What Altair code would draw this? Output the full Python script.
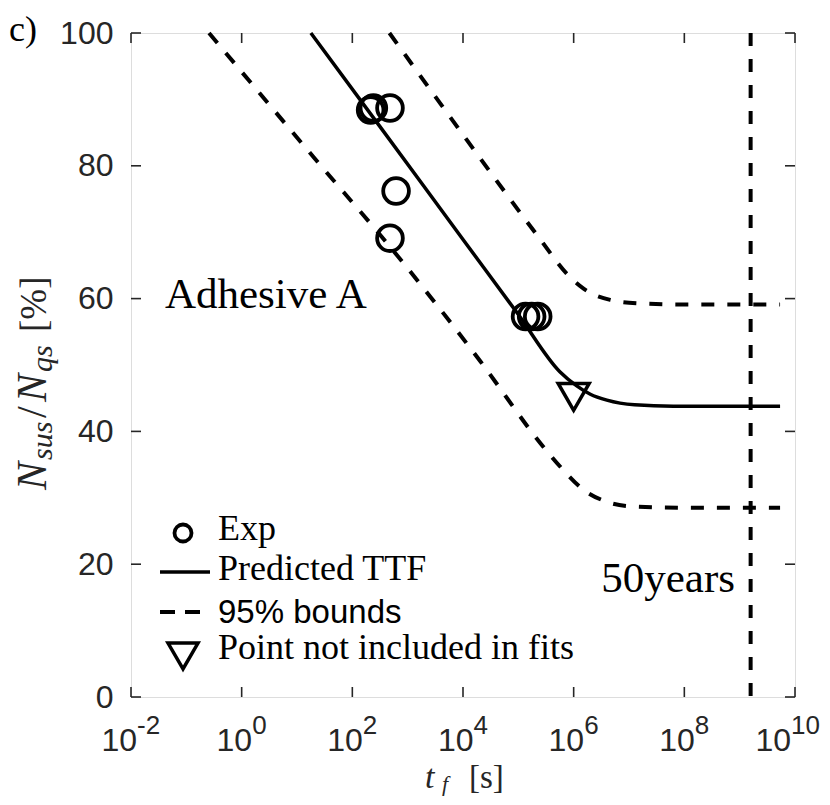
import altair as alt
import pandas as pd

# ---------------- data ----------------
# experimental points (time to failure [s], Nsus/Nqs [%])
exp_t = [214, 240, 479, 617, 479, 1.35e5, 1.74e5, 2.24e5]
exp_y = [88.4, 88.7, 88.7, 76.2, 69.1, 57.3, 57.3, 57.3]

# point not included in fits
excl_t = [1.0e6]
excl_y = [45.2]

# predicted TTF curve
pred_t = [17.8, 316, 1.0e4, 1.0e5, 5.62e5, 1.12e6, 2.0e6, 3.98e6, 1.26e7, 6.31e7, 5.37e9]
pred_y = [100, 85.9, 68.9, 57.6, 49.0, 46.9, 45.6, 44.7, 44.0, 43.8, 43.8]

# 95% bounds
upper_t = [468, 1.17e4, 2.45e5, 7.41e5, 1.51e6, 4.57e6, 1.38e7, 1.0e8, 5.37e9]
upper_y = [100, 83.9, 69.0, 63.8, 61.5, 59.8, 59.3, 59.1, 59.1]
lower_t = [0.257, 19.5, 631, 2.04e4, 2.82e5, 6.46e5, 1.51e6, 3.98e6, 1.17e7, 1.0e8, 5.37e9]
lower_y = [100, 81.4, 66.6, 50.6, 37.7, 34.2, 31.2, 29.4, 28.7, 28.5, 28.5]

# 50 years line
fifty_t = [1.578e9]

# axis ticks
x_ticks = [1e-2, 1e0, 1e2, 1e4, 1e6, 1e8, 1e10]
x_exps = ["-2", "0", "2", "4", "6", "8", "10"]
y_ticks = [0, 20, 40, 60, 80, 100]

legend_labels = ["Exp", "Predicted TTF", "95% bounds", "Point not included in fits"]
annot_adhesive = ("Adhesive A", 0.041, 58.6)
annot_50 = ("50years", 8.24e8, 15.8)

# ---------------- chart ----------------
W, H = 664, 664
AX = "#262626"
SERIF = "Liberation Serif"
SANS = "Liberation Sans"

xs = alt.Scale(type="log", domain=[1e-2, 1e10], nice=False)
ys = alt.Scale(domain=[0, 100], nice=False, zero=False)
yaxis = alt.Axis(values=y_ticks, title=None, domain=False, ticks=False, grid=False,
                 labelFont=SANS, labelFontSize=32, labelColor=AX, labelPadding=18)


def X(f="t"):
    return alt.X(f"{f}:Q", scale=xs, axis=None)


def Y(f="y"):
    return alt.Y(f"{f}:Q", scale=ys, axis=yaxis)


def label(text, x, y, size, font=SERIF, style="normal", angle=0, align="left",
          baseline="alphabetic", color="black"):
    return alt.Chart(pd.DataFrame({"s": [text]})).mark_text(
        font=font, fontSize=size, fontStyle=style, angle=angle, align=align,
        baseline=baseline, color=color
    ).encode(text="s:N", x=alt.value(x), y=alt.value(y))


exp_df = pd.DataFrame({"t": exp_t, "y": exp_y})
excl_df = pd.DataFrame({"t": excl_t, "y": excl_y})
pred_df = pd.DataFrame({"t": pred_t, "y": pred_y})
bounds_df = pd.concat([
    pd.DataFrame({"t": upper_t, "y": upper_y, "s": "upper"}),
    pd.DataFrame({"t": lower_t, "y": lower_y, "s": "lower"}),
])
fifty_df = pd.DataFrame({"t": fifty_t})
xt_df = pd.DataFrame({"t": x_ticks, "e": x_exps})
yt_df = pd.DataFrame({"v": y_ticks})

layers = []

# tick marks pointing inward (box style)
layers.append(alt.Chart(xt_df).mark_rule(color=AX, strokeWidth=1.6).encode(
    x=X(), y=alt.value(H), y2=alt.value(H - 10)))
layers.append(alt.Chart(xt_df).mark_rule(color=AX, strokeWidth=1.6).encode(
    x=X(), y=alt.value(0), y2=alt.value(10)))
layers.append(alt.Chart(yt_df).mark_rule(color=AX, strokeWidth=1.6).encode(
    y=Y("v"), x=alt.value(0), x2=alt.value(10)))
layers.append(alt.Chart(yt_df).mark_rule(color=AX, strokeWidth=1.6).encode(
    y=Y("v"), x=alt.value(W), x2=alt.value(W - 10)))

# x tick labels 10^n (base + superscript), grouped by exponent width
groups = [
    ("length(datum.e) == 1", 10.5),
    ("datum.e == '-2'", 6),
    ("datum.e == '10'", -4),
]
for flt, dx in groups:
    layers.append(alt.Chart(xt_df).transform_filter(flt).mark_text(
        font=SANS, fontSize=32, color=AX, align="right", baseline="alphabetic", dx=dx
    ).encode(x=X(), y=alt.value(718), text=alt.value("10")))
    layers.append(alt.Chart(xt_df).transform_filter(flt).mark_text(
        font=SANS, fontSize=26, color=AX, align="left", baseline="alphabetic", dx=dx
    ).encode(x=X(), y=alt.value(701), text="e:N"))

# 50 years line
layers.append(alt.Chart(fifty_df).mark_rule(color="black", strokeWidth=4,
                                             strokeDash=[13, 13]).encode(x=X()))

# bounds
layers.append(alt.Chart(bounds_df).mark_line(color="black", strokeWidth=4,
                                             strokeDash=[13, 13], interpolate="monotone").encode(
    x=X(), y=Y(), detail="s:N"))

# predicted
layers.append(alt.Chart(pred_df).mark_line(color="black", strokeWidth=3.5,
                                           interpolate="monotone").encode(x=X(), y=Y()))

# exp points
layers.append(alt.Chart(exp_df).mark_point(shape="circle", size=660, filled=False,
                                           strokeWidth=3.8, color="black", opacity=1).encode(x=X(), y=Y()))
# excluded point
layers.append(alt.Chart(excl_df).mark_point(shape="triangle-down", size=960, filled=False,
                                            strokeWidth=3.5, color="black", opacity=1).encode(x=X(), y=Y()))

# annotations in data coordinates
for txt, tx, ty, al in ((annot_adhesive[0], annot_adhesive[1], annot_adhesive[2], "left"),
                        (annot_50[0], annot_50[1], annot_50[2], "right")):
    layers.append(alt.Chart(pd.DataFrame({"s": [txt], "t": [tx], "y": [ty]})).mark_text(
        font=SERIF, fontSize=43, color="black", align=al, baseline="alphabetic"
    ).encode(x=X(), y=Y(), text="s:N"))

# legend
layers.append(alt.Chart(pd.DataFrame({"k": [0]})).mark_point(
    shape="circle", size=290, filled=False, strokeWidth=3.8, color="black", opacity=1
).encode(x=alt.value(52), y=alt.value(500)))
layers.append(alt.Chart(pd.DataFrame({"k": [0]})).mark_rule(color="black", strokeWidth=3.5).encode(
    x=alt.value(29), x2=alt.value(79), y=alt.value(539)))
layers.append(alt.Chart(pd.DataFrame({"k": [0]})).mark_rule(color="black", strokeWidth=4,
                                                          strokeDash=[15, 10]).encode(
    x=alt.value(29), x2=alt.value(69), y=alt.value(579)))
layers.append(alt.Chart(pd.DataFrame({"k": [0]})).mark_point(
    shape="triangle-down", size=900, filled=False, strokeWidth=3.5, color="black", opacity=1
).encode(x=alt.value(52), y=alt.value(623)))
layers.append(label(legend_labels[0], 87, 507, 36))
layers.append(label(legend_labels[1], 87, 547, 36))
layers.append(label(legend_labels[2], 87, 590, 33, font=SANS))
layers.append(label(legend_labels[3], 87, 626, 36))

# panel tag
layers.append(label("c)", -122, 8, 36))

# x axis title: t_f [s]
layers.append(label("t", 294, 755, 34, style="italic", color=AX))
layers.append(label("f", 311, 758, 22, style="italic", color=AX))
layers.append(label("[s]", 338, 755, 33, color=AX))

# y axis title: N_sus/N_qs [%] (rotated)
YB = -85
YS = -18
layers.append(label("N", YB, 508 - 33 + YS, 42, style="italic", angle=270, color=AX))
layers.append(label("sus", YB + 6, 478 - 33 + YS, 30, style="italic", angle=270, color=AX))
layers.append(label("/", YB, 436 - 33 + YS, 42, angle=270, color=AX))
layers.append(label("N", YB, 420 - 33 + YS, 42, style="italic", angle=270, color=AX))
layers.append(label("qs", YB + 6, 390 - 33 + YS, 30, style="italic", angle=270, color=AX))
layers.append(label("[%]", YB, 350 - 33 + YS, 37, angle=270, color=AX))

chart = alt.layer(*layers).properties(
    width=W, height=H,
    padding={"left": 123, "top": 25, "right": 27, "bottom": 100},
    autosize=alt.AutoSizeParams(type="none"),
).configure_view(stroke=AX, strokeWidth=1.6).configure(background="white")

chart.save("out.html", embed_options={"renderer": "svg", "actions": False})
